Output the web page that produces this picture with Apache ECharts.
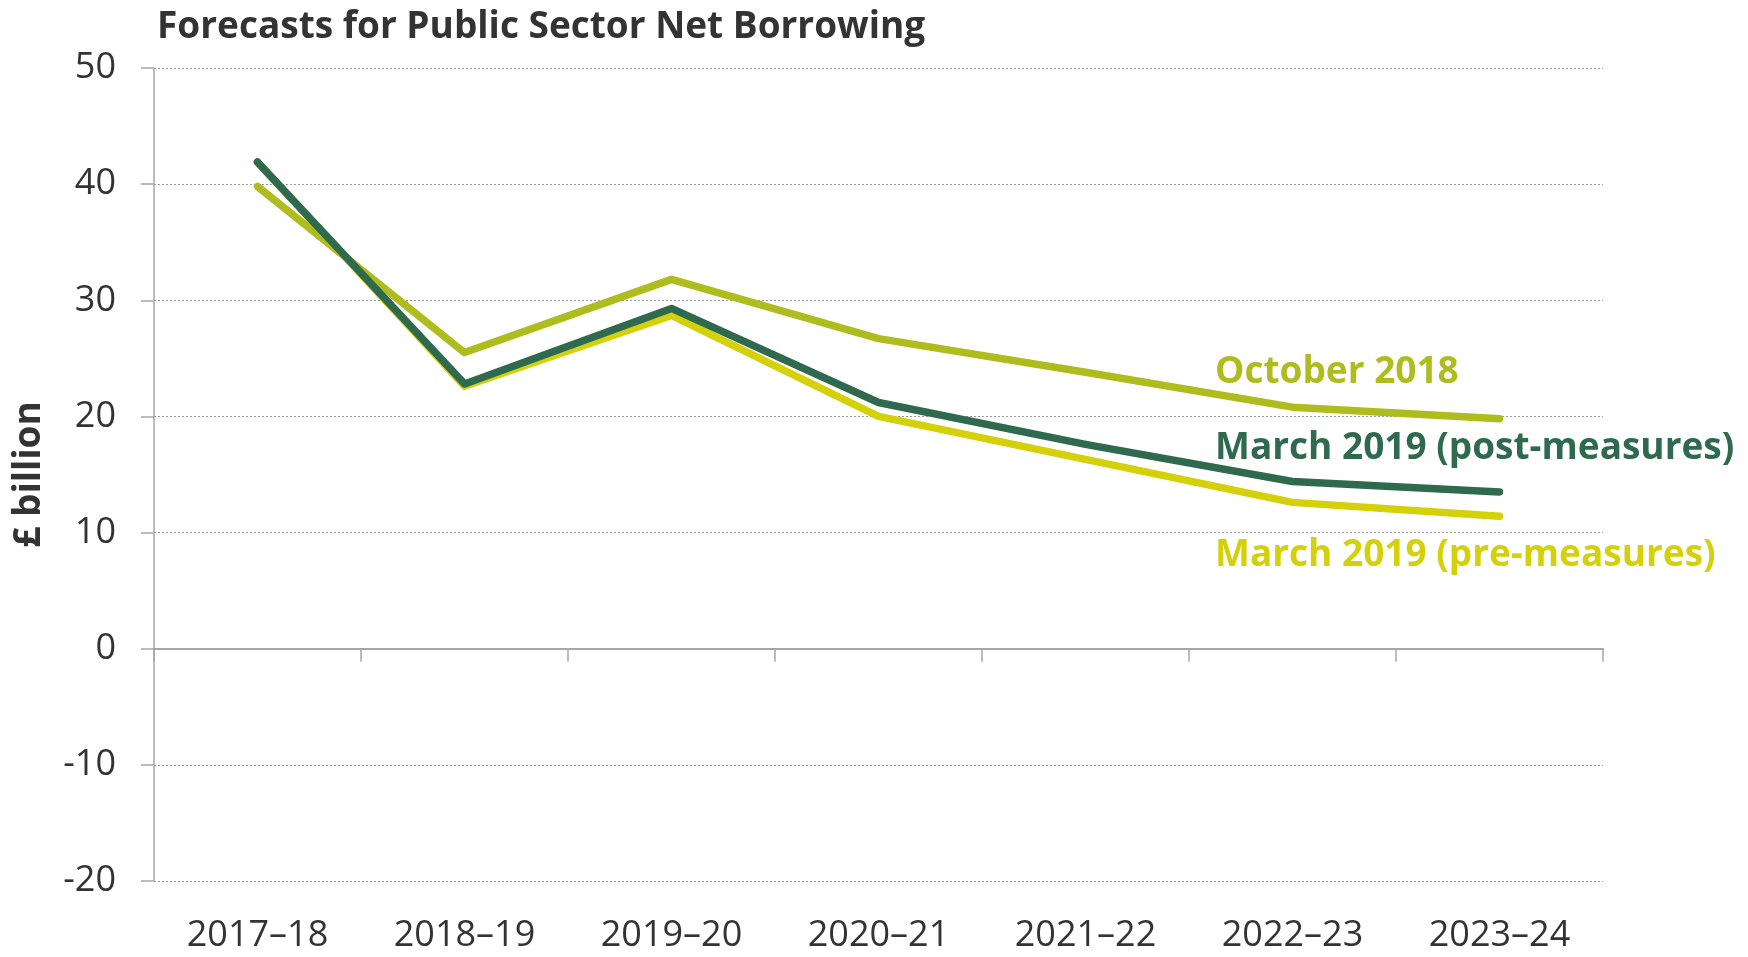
<!DOCTYPE html>
<html>
<head>
<meta charset="utf-8">
<script src="https://cdn.jsdelivr.net/npm/echarts@6/dist/echarts.min.js"></script>
<style>
  html, body { margin: 0; padding: 0; background: #ffffff; }
  #chart { width: 1748px; height: 957px; }
</style>
</head>
<body>
<div id="chart"></div>
<script>
// Fiscal years on the category axis
const years = ['2017\u201318', '2018\u201319', '2019\u201320', '2020\u201321', '2021\u201322', '2022\u201323', '2023\u201324'];

// Public sector net borrowing, £ billion
const october2018 = [39.8, 25.5, 31.8, 26.7, 23.8, 20.8, 19.8];
const march2019Pre = [41.9, 22.6, 28.7, 20.0, 16.3, 12.6, 11.4];
const march2019Post = [41.9, 22.8, 29.3, 21.2, 17.6, 14.4, 13.5];

// Value axis ticks
const yTicks = [-20, -10, 0, 10, 20, 30, 40, 50];

const FONT = '"Open Sans", "Noto Sans", sans-serif';
const TEXT = '#333333';
const AXIS = '#a6a6a6';
const C_OCT = '#afbc1d';
const C_PRE = '#d4d10a';
const C_POST = '#2f6a4e';

const chart = echarts.init(document.getElementById('chart'), null, { renderer: 'canvas' });

function lineSeries(name, data, color) {
  return {
    name: name,
    type: 'line',
    xAxisIndex: 0,
    yAxisIndex: 0,
    data: data,
    symbol: 'none',
    smooth: false,
    lineStyle: { color: color, width: 7.5, cap: 'round', join: 'round' },
    emphasis: { disabled: true },
    z: 3
  };
}

chart.setOption({
  animation: false,
  title: {
    text: 'Forecasts for Public Sector Net Borrowing',
    left: 152,
    top: 4,
    textStyle: { fontFamily: FONT, fontSize: 37, fontWeight: 'bold', color: TEXT }
  },
  grid: { left: 154, right: 145, top: 68, bottom: 76, containLabel: false },
  xAxis: [
    {
      // category labels along the bottom
      type: 'category',
      data: years,
      position: 'bottom',
      boundaryGap: true,
      axisLine: { show: false, onZero: false },
      axisTick: { show: false },
      splitLine: { show: false },
      axisLabel: { fontFamily: FONT, fontSize: 36, color: TEXT, margin: 34, lineHeight: 42 }
    },
    {
      // zero line with boundary ticks hanging down
      type: 'category',
      data: years,
      position: 'top',
      boundaryGap: true,
      axisLine: { show: true, onZero: true, lineStyle: { color: AXIS, width: 2 } },
      axisTick: { show: true, inside: true, length: 13, lineStyle: { color: AXIS, width: 1.5 } },
      axisLabel: { show: false },
      splitLine: { show: false }
    }
  ],
  yAxis: {
    type: 'value',
    min: yTicks[0],
    max: yTicks[yTicks.length - 1],
    interval: 10,
    name: '£ billion',
    nameLocation: 'middle',
    nameRotate: 90,
    nameGap: 106,
    nameTextStyle: { fontFamily: FONT, fontSize: 37, fontWeight: 'bold', color: TEXT },
    axisLine: { show: true, lineStyle: { color: AXIS, width: 1.5 } },
    axisTick: { show: true, length: 13, lineStyle: { color: AXIS, width: 1.5 } },
    axisLabel: { fontFamily: FONT, fontSize: 36, color: TEXT, margin: 38 },
    splitLine: { show: true, lineStyle: { color: '#9a9a9a', width: 1, type: [2, 2] } }
  },
  series: [
    lineSeries('October 2018', october2018, C_OCT),
    lineSeries('March 2019 (pre-measures)', march2019Pre, C_PRE),
    lineSeries('March 2019 (post-measures)', march2019Post, C_POST)
  ],
  graphic: [
    { type: 'text', left: 1215, top: 354, style: { text: 'October 2018', fontFamily: FONT, fontSize: 37, fontWeight: 'bold', fill: C_OCT } },
    { type: 'text', left: 1215, top: 430, style: { text: 'March 2019 (post-measures)', fontFamily: FONT, fontSize: 37, fontWeight: 'bold', fill: C_POST } },
    { type: 'text', left: 1215, top: 537, style: { text: 'March 2019 (pre-measures)', fontFamily: FONT, fontSize: 37, fontWeight: 'bold', fill: C_PRE } }
  ]
});
</script>
</body>
</html>
